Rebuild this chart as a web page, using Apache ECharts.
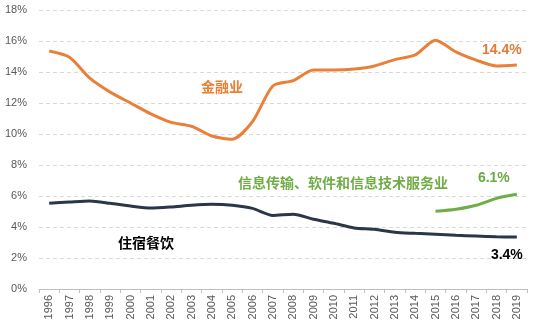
<!DOCTYPE html>
<html><head><meta charset="utf-8">
<script src="https://cdn.jsdelivr.net/npm/echarts@6/dist/echarts.min.js"></script>
<style>html,body{margin:0;padding:0;background:#fff}#c{width:539px;height:332px}</style>
</head><body><div id="c"></div>
<script>
var years = ['1996','1997','1998','1999','2000','2001','2002','2003','2004','2005','2006','2007','2008','2009','2010','2011','2012','2013','2014','2015','2016','2017','2018','2019'];
var finance = [15.35,14.95,13.6,12.7,12.0,11.3,10.75,10.5,9.87,9.66,10.8,13.1,13.44,14.13,14.13,14.19,14.39,14.8,15.1,16.05,15.3,14.77,14.39,14.45];
var lodging = [5.53,5.61,5.68,5.53,5.35,5.22,5.29,5.4,5.46,5.4,5.2,4.75,4.82,4.5,4.24,3.94,3.85,3.66,3.59,3.53,3.46,3.42,3.37,3.35];
var it = [null,null,null,null,null,null,null,null,null,null,null,null,null,null,null,null,null,null,null,5.01,5.14,5.4,5.85,6.11];
var yTicks = [0,2,4,6,8,10,12,14,16,18];
var endLabels = {finance:'14.4%', lodging:'3.4%', it:'6.1%'};

function mk(arr, text, color, lineColor, offset){
  return {type:'line', data:arr, smooth:0.25, showSymbol:false, symbol:'none',
    lineStyle:{color:lineColor, width:3}, itemStyle:{color:lineColor}, emphasis:{disabled:true},
    endLabel:{show:true, formatter:text, color:color, fontWeight:'bold', fontSize:14, fontFamily:'Liberation Sans',
      distance:0, align:'center', verticalAlign:'middle', offset:offset}};
}
var chart = echarts.init(document.getElementById('c'));
chart.setOption({
  animation:false,
  grid:{left:39, right:12, top:10, bottom:43},
  xAxis:{type:'category', data:years, boundaryGap:true,
    axisLine:{lineStyle:{color:'#BFBFBF'}},
    axisTick:{show:true, alignWithLabel:false, lineStyle:{color:'#BFBFBF'}, length:4},
    axisLabel:{rotate:90, color:'#595959', fontSize:11, fontFamily:'Liberation Sans', margin:6}},
  yAxis:{type:'value', min:yTicks[0], max:yTicks[yTicks.length-1], interval:2,
    axisLine:{show:false}, axisTick:{show:false},
    axisLabel:{formatter:'{value}%', color:'#595959', fontSize:11, fontFamily:'Liberation Sans', margin:12},
    splitLine:{lineStyle:{color:'#D9D9D9', type:[4,3]}}},
  series:[
    mk(finance, endLabels.finance, '#E07B39', '#E8803A', [-15,-15]),
    mk(lodging, endLabels.lodging, '#000', '#2B3648', [-10,18]),
    mk(it, endLabels.it, '#6AAA45', '#70AD47', [-23,-16])
  ],
  graphic:[
    {type:'text', left:201, top:80, style:{text:'金融业', fill:'#ED7D31', font:'bold 14px "Noto Sans CJK SC"'}},
    {type:'text', left:238, top:176, style:{text:'信息传输、软件和信息技术服务业', fill:'#70AD47', font:'bold 14px "Noto Sans CJK SC"'}},
    {type:'text', left:118, top:236, style:{text:'住宿餐饮', fill:'#000', font:'bold 14px "Noto Sans CJK SC"'}}
  ]
});
</script></body></html>
